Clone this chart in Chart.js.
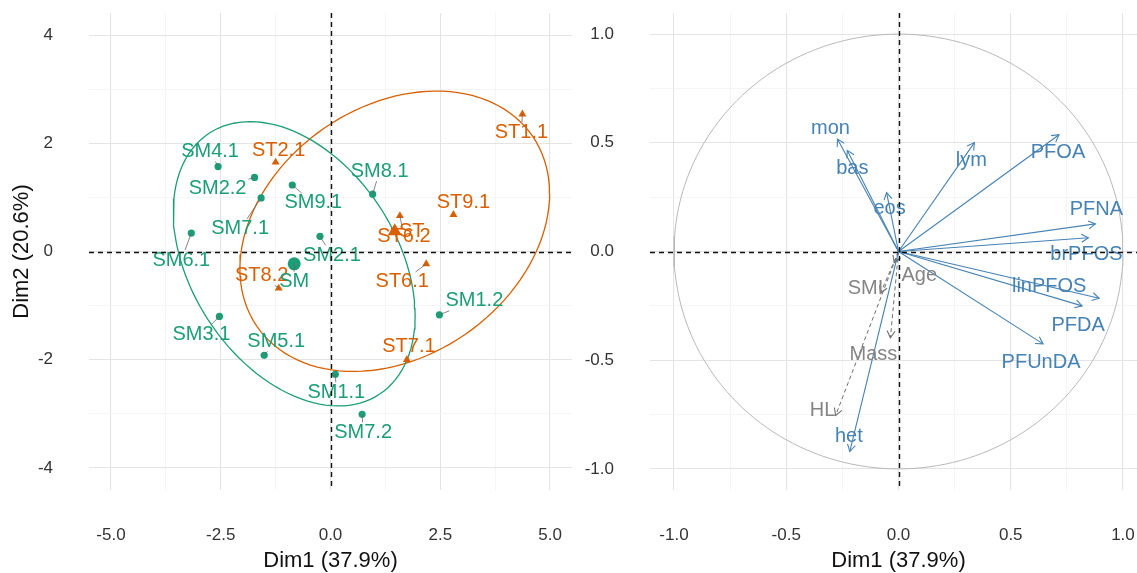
<!DOCTYPE html>
<html>
<head>
<meta charset="utf-8">
<script src="https://cdn.jsdelivr.net/npm/chart.js@4.4.1/dist/chart.umd.min.js"></script>
<style>
  html, body { margin: 0; padding: 0; background: #ffffff; overflow: hidden; width: 1137px; height: 573px; }
  #ind { position: absolute; left: 0; top: 0; }
  #var { position: absolute; left: 580px; top: 0; }
</style>
</head>
<body>
<canvas id="ind" width="580" height="573"></canvas>
<canvas id="var" width="567" height="573"></canvas>
<script>
// ---- Individuals: scores on Dim1 / Dim2 ----
const smNames = ['SM1.1', 'SM1.2', 'SM2.1', 'SM2.2', 'SM3.1', 'SM4.1', 'SM5.1', 'SM6.1', 'SM7.1', 'SM7.2', 'SM8.1', 'SM9.1'];
const smDim1  = [0.11, 2.48, -0.24, -1.73, -2.53, -2.56, -1.51, -3.17, -1.58, 0.72, 0.96, -0.87];
const smDim2  = [-2.27, -1.17, 0.28, 1.37, -1.20, 1.57, -1.92, 0.34, 0.99, -3.01, 1.06, 1.23];

const stNames = ['ST1.1', 'ST2.1', 'ST6.1', 'ST6.2', 'ST7.1', 'ST8.2', 'ST9.1'];
const stDim1  = [4.37, -1.25, 2.18, 1.58, 1.74, -1.18, 2.80];
const stDim2  = [2.54, 1.65, -0.23, 0.66, -2.00, -0.68, 0.68];

// ---- Variables: correlations with Dim1 / Dim2 ----
const activeVars = ['PFOA', 'PFNA', 'brPFOS', 'linPFOS', 'PFDA', 'PFUnDA', 'lym', 'mon', 'bas', 'eos', 'het'];
const activeDim1 = [0.715, 0.877, 0.846, 0.894, 0.818, 0.644, 0.338, -0.272, -0.228, -0.053, -0.217];
const activeDim2 = [0.537, 0.127, 0.063, -0.215, -0.250, -0.425, 0.501, 0.517, 0.465, 0.271, -0.920];

const suppVars = ['Age', 'SMI', 'Mass', 'HL'];
const suppDim1 = [-0.019, -0.080, -0.036, -0.280];
const suppDim2 = [-0.052, -0.191, -0.397, -0.754];

// ---- Axis ticks ----
const indXTicks = [-5, -2.5, 0, 2.5, 5];
const indYTicks = [-4, -2, 0, 2, 4];
const varTicks  = [-1, -0.5, 0, 0.5, 1];
const xTitle = 'Dim1 (37.9%)';
const yTitle = 'Dim2 (20.6%)';

// ---- Text placement (pixel offsets from the mark, repel-style) ----
const smLabelOffset = [[1, 18], [35, -14], [12, 19], [-37, 11], [-18, 18], [-8, -15], [12, -14], [-10, 27], [-21, 31], [1, 18], [7, -23], [21, 18]];
const stLabelOffset = [[-1, 18], [3, -12], [-24, 18], [4, 21], [2, -13], [-17, -13], [10, -12]];
const meanLabelOffset = { SM: [0, 18], ST: [17, 0] };
const activeLabelOffset = [[-1, 18], [1, -14], [-2, 17], [-50, -12], [-4, 20], [-2, 19], [-3, 18], [-7, -11], [5, 18], [3, 16], [-1, -15]];
const suppLabelOffset = [[25, 13], [-15, -5], [-17, 17], [-13, -5]];

// ---- Styling ----
const FONT = '"Liberation Sans", Arial, Helvetica, sans-serif';
const GREEN = '#1B9E77';
const ORANGE = '#D95F02';
const STEEL = '#4682B4';
const GREY = '#858585';
const ELLIPSE_LEVEL = 0.70;

const mean = a => a.reduce((s, v) => s + v, 0) / a.length;

// Normal-theory data ellipse: centre + r * unitCircle %*% chol(cov), r from F(2, n-1)
function dataEllipse(xs, ys, level, segments) {
  const n = xs.length, mx = mean(xs), my = mean(ys);
  let sxx = 0, syy = 0, sxy = 0;
  for (let i = 0; i < n; i++) {
    const dx = xs[i] - mx, dy = ys[i] - my;
    sxx += dx * dx; syy += dy * dy; sxy += dx * dy;
  }
  sxx /= n - 1; syy /= n - 1; sxy /= n - 1;
  const dfd = n - 1;
  const f = (dfd / 2) * (Math.pow(1 - level, -2 / dfd) - 1);
  const r = Math.sqrt(2 * f);
  const u11 = Math.sqrt(sxx), u12 = sxy / u11, u22 = Math.sqrt(syy - u12 * u12);
  const pts = [];
  for (let k = 0; k <= segments; k++) {
    const t = 2 * Math.PI * k / segments;
    const c = Math.cos(t), s = Math.sin(t);
    pts.push({ x: mx + r * c * u11, y: my + r * (c * u12 + s * u22) });
  }
  return pts;
}

const toPoints = (xs, ys) => xs.map((v, i) => ({ x: v, y: ys[i] }));
const isMajor = (v, list) => list.some(t => Math.abs(t - v) < 1e-9);

function gridValues(major) {
  const out = [];
  for (let i = 0; i < major.length; i++) {
    out.push(major[i]);
    if (i < major.length - 1) out.push((major[i] + major[i + 1]) / 2);
  }
  return out;
}

function axisOptions(opts) {
  const { min, max, major, fmt, horizontal, title, fixedSize, pad, titlePad } = opts;
  const grid = gridValues(major);
  return {
    type: 'linear',
    min, max,
    afterBuildTicks: s => { s.ticks = grid.map(v => ({ value: v })); },
    afterFit: s => {
      if (horizontal) s.height = fixedSize; else s.width = fixedSize;
      // the panel edges are set by the layout padding alone
      s.paddingLeft = 0; s.paddingRight = 0; s.paddingTop = 0; s.paddingBottom = 0;
    },
    border: { display: false },
    grid: {
      drawTicks: false,
      color: c => (c.tick && isMajor(c.tick.value, major)) ? '#e4e4e4' : '#f2f2f2',
      lineWidth: c => (c.tick && isMajor(c.tick.value, major)) ? 1.1 : 0.8
    },
    ticks: {
      autoSkip: false, maxRotation: 0, minRotation: 0,
      padding: pad,
      color: '#333333',
      font: { family: FONT, size: 17 },
      callback: v => isMajor(v, major) ? fmt(v) : ''
    },
    title: title ? {
      display: true, text: title, color: '#111',
      font: { family: FONT, size: 22, lineHeight: 1.1 },
      padding: titlePad
    } : { display: false }
  };
}

function drawZeroLines(chart) {
  const { ctx, chartArea: a, scales: { x, y } } = chart;
  ctx.save();
  ctx.strokeStyle = '#111';
  ctx.lineWidth = 1.4;
  ctx.setLineDash([5, 4]);
  const x0 = Math.round(x.getPixelForValue(0)) + 0.5;
  const y0 = Math.round(y.getPixelForValue(0)) + 0.5;
  ctx.beginPath(); ctx.moveTo(a.left, y0); ctx.lineTo(a.right, y0); ctx.stroke();
  ctx.beginPath(); ctx.moveTo(x0, a.top); ctx.lineTo(x0, a.bottom); ctx.stroke();
  ctx.restore();
}

// ---------------- Individuals factor map ----------------
const smMean = { x: mean(smDim1), y: mean(smDim2) };
const stMean = { x: mean(stDim1), y: mean(stDim2) };

const indLabels = {
  id: 'indLabels',
  afterDatasetsDraw(chart) {
    const { ctx, scales: { x, y } } = chart;
    ctx.save();
    ctx.font = '20px ' + FONT;
    ctx.textAlign = 'center';
    ctx.textBaseline = 'middle';
    const items = [];
    smNames.forEach((n, i) => items.push({ n, vx: smDim1[i], vy: smDim2[i], off: smLabelOffset[i], col: GREEN }));
    stNames.forEach((n, i) => items.push({ n, vx: stDim1[i], vy: stDim2[i], off: stLabelOffset[i], col: ORANGE }));
    items.push({ n: 'SM', vx: smMean.x, vy: smMean.y, off: meanLabelOffset.SM, col: GREEN });
    items.push({ n: 'ST', vx: stMean.x, vy: stMean.y, off: meanLabelOffset.ST, col: ORANGE });
    // connector from each mark toward its text, clipped at the text box
    items.forEach(it => {
      const px = x.getPixelForValue(it.vx), py = y.getPixelForValue(it.vy);
      const dx = px - (px + it.off[0]), dy = py - (py + it.off[1]);
      const lx = px + it.off[0], ly = py + it.off[1];
      const hw = ctx.measureText(it.n).width / 2 + 2, hh = 10;
      const frac = Math.min(dx ? hw / Math.abs(dx) : Infinity, dy ? hh / Math.abs(dy) : Infinity);
      if (frac >= 1) return;
      const ex = lx + dx * frac, ey = ly + dy * frac;
      if (Math.hypot(px - ex, py - ey) > 4) {
        ctx.strokeStyle = '#666';
        ctx.lineWidth = 0.8;
        ctx.beginPath(); ctx.moveTo(px, py); ctx.lineTo(ex, ey); ctx.stroke();
      }
    });
    items.forEach(it => {
      const px = x.getPixelForValue(it.vx), py = y.getPixelForValue(it.vy);
      ctx.fillStyle = it.col;
      ctx.fillText(it.n, px + it.off[0], py + it.off[1]);
    });
    ctx.restore();
    drawZeroLines(chart);
  }
};

new Chart(document.getElementById('ind'), {
  type: 'scatter',
  data: {
    datasets: [
      { label: 'SM', data: toPoints(smDim1, smDim2), pointStyle: 'circle', pointRadius: 3.6, backgroundColor: GREEN, borderColor: GREEN, borderWidth: 0, order: 1 },
      { label: 'ST', data: toPoints(stDim1, stDim2), pointStyle: 'triangle', pointRadius: 4.6, backgroundColor: ORANGE, borderColor: ORANGE, borderWidth: 0, order: 1 },
      { label: 'SM mean', data: [smMean], pointStyle: 'circle', pointRadius: 6.5, backgroundColor: GREEN, borderColor: GREEN, borderWidth: 0, order: 0 },
      { label: 'ST mean', data: [stMean], pointStyle: 'triangle', pointRadius: 8, backgroundColor: ORANGE, borderColor: ORANGE, borderWidth: 0, order: 0 },
      { type: 'line', label: 'SM ellipse', data: dataEllipse(smDim1, smDim2, ELLIPSE_LEVEL, 120), borderColor: GREEN, borderWidth: 1.3, pointRadius: 0, fill: false, tension: 0, order: 2 },
      { type: 'line', label: 'ST ellipse', data: dataEllipse(stDim1, stDim2, ELLIPSE_LEVEL, 120), borderColor: ORANGE, borderWidth: 1.3, pointRadius: 0, fill: false, tension: 0, order: 2 }
    ]
  },
  options: {
    responsive: false,
    animation: false,
    devicePixelRatio: 1,
    layout: { padding: { top: 13, right: 8, left: 0, bottom: 0 } },
    plugins: { legend: { display: false }, tooltip: { enabled: false } },
    scales: {
      x: axisOptions({ min: -5.5, max: 5.5, major: indXTicks, fmt: v => v.toFixed(1), horizontal: true, title: xTitle, fixedSize: 83, pad: 35, titlePad: { top: 0, bottom: 0 } }),
      y: axisOptions({ min: -4.41, max: 4.41, major: indYTicks, fmt: v => String(v), horizontal: false, title: yTitle, fixedSize: 89, pad: 36, titlePad: { top: 10, bottom: 0 } })
    }
  },
  plugins: [indLabels]
});

// ---------------- Variables correlation circle ----------------
const circle = [];
for (let k = 0; k <= 180; k++) {
  const t = 2 * Math.PI * k / 180;
  circle.push({ x: Math.cos(t), y: Math.sin(t) });
}

const arrowSets = [];
activeVars.forEach((n, i) => arrowSets.push({
  type: 'line', label: n, data: [{ x: 0, y: 0 }, { x: activeDim1[i], y: activeDim2[i] }],
  borderColor: STEEL, borderWidth: 1.1, pointRadius: 0, fill: false, order: 1
}));
suppVars.forEach((n, i) => arrowSets.push({
  type: 'line', label: n, data: [{ x: 0, y: 0 }, { x: suppDim1[i], y: suppDim2[i] }],
  borderColor: '#6e6e6e', borderWidth: 1, borderDash: [4, 3], pointRadius: 0, fill: false, order: 1
}));

const varDecor = {
  id: 'varDecor',
  afterDatasetsDraw(chart) {
    const { ctx, scales: { x, y } } = chart;
    ctx.save();
    // open arrowheads at each tip
    const heads = [];
    activeVars.forEach((n, i) => heads.push({ vx: activeDim1[i], vy: activeDim2[i], col: STEEL }));
    suppVars.forEach((n, i) => heads.push({ vx: suppDim1[i], vy: suppDim2[i], col: '#6e6e6e' }));
    const ox = x.getPixelForValue(0), oy = y.getPixelForValue(0);
    heads.forEach(h => {
      const tx = x.getPixelForValue(h.vx), ty = y.getPixelForValue(h.vy);
      const ang = Math.atan2(ty - oy, tx - ox);
      const L = 8, spread = Math.PI / 6;
      ctx.strokeStyle = h.col;
      ctx.lineWidth = 1.1;
      ctx.setLineDash([]);
      ctx.beginPath();
      ctx.moveTo(tx - L * Math.cos(ang - spread), ty - L * Math.sin(ang - spread));
      ctx.lineTo(tx, ty);
      ctx.lineTo(tx - L * Math.cos(ang + spread), ty - L * Math.sin(ang + spread));
      ctx.stroke();
    });
    // variable names
    ctx.font = '20px ' + FONT;
    ctx.textAlign = 'center';
    ctx.textBaseline = 'middle';
    activeVars.forEach((n, i) => {
      ctx.fillStyle = STEEL;
      ctx.fillText(n, x.getPixelForValue(activeDim1[i]) + activeLabelOffset[i][0], y.getPixelForValue(activeDim2[i]) + activeLabelOffset[i][1]);
    });
    suppVars.forEach((n, i) => {
      ctx.fillStyle = GREY;
      ctx.fillText(n, x.getPixelForValue(suppDim1[i]) + suppLabelOffset[i][0], y.getPixelForValue(suppDim2[i]) + suppLabelOffset[i][1]);
    });
    ctx.restore();
    drawZeroLines(chart);
  }
};

new Chart(document.getElementById('var'), {
  type: 'scatter',
  data: {
    datasets: [
      { type: 'line', label: 'unit circle', data: circle, borderColor: '#b8b8b8', borderWidth: 1, pointRadius: 0, fill: false, tension: 0, order: 3 },
      ...arrowSets
    ]
  },
  options: {
    responsive: false,
    animation: false,
    devicePixelRatio: 1,
    layout: { padding: { top: 13, right: 0, left: 0, bottom: 0 } },
    plugins: { legend: { display: false }, tooltip: { enabled: false } },
    scales: {
      x: axisOptions({ min: -1.107, max: 1.107, major: varTicks, fmt: v => v.toFixed(1), horizontal: true, title: xTitle, fixedSize: 83, pad: 35, titlePad: { top: 0, bottom: 0 } }),
      y: axisOptions({ min: -1.097, max: 1.097, major: varTicks, fmt: v => v.toFixed(1), horizontal: false, title: null, fixedSize: 70, pad: 36, titlePad: { top: 0, bottom: 0 } })
    }
  },
  plugins: [varDecor]
});
</script>
</body>
</html>
